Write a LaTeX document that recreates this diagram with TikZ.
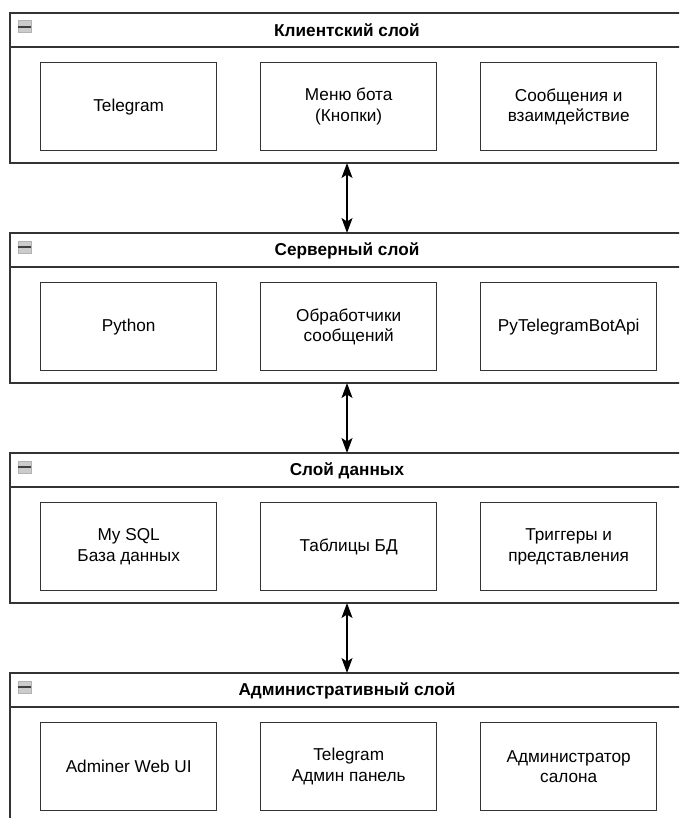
\documentclass[tikz,border=0pt]{standalone}
\usepackage{fontspec}
\setmainfont{Liberation Sans}
\usetikzlibrary{arrows.meta}
\definecolor{strk}{HTML}{333333}
\tikzset{
  layer/.style={draw=strk, line width=1.4pt, rectangle, anchor=north west, minimum width=674pt, minimum height=150pt, inner sep=0pt, outer sep=0pt, fill=white},
  hdr/.style={font=\fontsize{17.2}{20}\selectfont\bfseries, anchor=center, inner sep=0pt, text=black},
  itembox/.style={draw=strk, line width=1.4pt, rectangle, anchor=north west, minimum width=176pt, minimum height=88pt, inner sep=2pt, align=center, font=\fontsize{17.2}{20.5}\selectfont, text=black},
  conn/.style={line width=1.4pt, draw=black, >={Stealth[length=15pt,width=11pt,inset=3.5pt]}, <->},
  icon/.style={draw=gray!60, fill=gray!40, line width=0.8pt, rectangle, minimum width=13pt, minimum height=12pt, inner sep=0pt, anchor=north west}
}
\begin{document}
\begin{tikzpicture}[x=1pt,y=-1pt]
\useasboundingbox (0,0) rectangle (679,818);
\clip (0,0) rectangle (679,818);
% Layer 1
\node[layer] (L1) at (10,13) {};
\draw[draw=strk, line width=1.4pt] (10,47) coordinate (h1a) -- (684,47) coordinate (h1b);
\node[icon] (I1) at (17.5,20.5) {};
\draw[line width=1.6pt, draw=black!75] (I1.west) -- (I1.east);
\node[hdr] (T1) at (347,30.5) {Клиентский слой};
\node[itembox] (B11) at (40,62) {Telegram};
\node[itembox] (B12) at (260,62) {Меню бота\\(Кнопки)};
\node[itembox] (B13) at (480,62) {Сообщения и\\взаимдействие};
% Layer 2
\node[layer] (L2) at (10,233) {};
\draw[draw=strk, line width=1.4pt] (10,267) coordinate (h2a) -- (684,267) coordinate (h2b);
\node[icon] (I2) at (17.5,240.5) {};
\draw[line width=1.6pt, draw=black!75] (I2.west) -- (I2.east);
\node[hdr] (T2) at (347,250.5) {Серверный слой};
\node[itembox] (B21) at (40,282) {Python};
\node[itembox] (B22) at (260,282) {Обработчики\\сообщений};
\node[itembox] (B23) at (480,282) {PyTelegramBotApi};
% Layer 3
\node[layer] (L3) at (10,453) {};
\draw[draw=strk, line width=1.4pt] (10,487) coordinate (h3a) -- (684,487) coordinate (h3b);
\node[icon] (I3) at (17.5,460.5) {};
\draw[line width=1.6pt, draw=black!75] (I3.west) -- (I3.east);
\node[hdr] (T3) at (347,470.5) {Слой данных};
\node[itembox] (B31) at (40,502) {My SQL\\База данных};
\node[itembox] (B32) at (260,502) {Таблицы БД};
\node[itembox] (B33) at (480,502) {Триггеры и\\представления};
% Layer 4
\node[layer] (L4) at (10,673) {};
\draw[draw=strk, line width=1.4pt] (10,707) coordinate (h4a) -- (684,707) coordinate (h4b);
\node[icon] (I4) at (17.5,680.5) {};
\draw[line width=1.6pt, draw=black!75] (I4.west) -- (I4.east);
\node[hdr] (T4) at (347,690.5) {Административный слой};
\node[itembox] (B41) at (40,722) {Adminer Web UI};
\node[itembox] (B42) at (260,722) {Telegram\\Админ панель};
\node[itembox] (B43) at (480,722) {Администратор\\салона};
% connectors
\draw[conn] (L1.south) -- (L2.north);
\draw[conn] (L2.south) -- (L3.north);
\draw[conn] (L3.south) -- (L4.north);
\end{tikzpicture}
\end{document}
